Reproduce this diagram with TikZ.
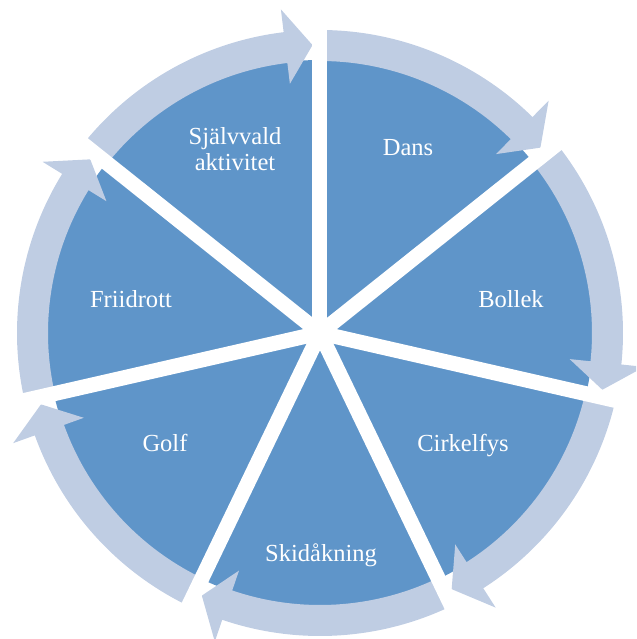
\documentclass[tikz,border=0pt]{standalone}
\usepackage{fontspec}
\setmainfont{Liberation Serif}
\definecolor{segblue}{HTML}{5F95C9}
\definecolor{arrowblue}{HTML}{BFCDE3}
\begin{document}
\begin{tikzpicture}[x=0.75pt,y=0.75pt,
  seg/.style={fill=segblue},
  ring/.style={fill=arrowblue},
  gapline/.style={draw=white,line width=11.25pt},
  lbl/.style={text=white,font=\fontsize{18.4}{19.5}\selectfont,anchor=base,inner sep=0pt}]
\clip (-320,-306) rectangle (316,333);
\fill[seg] (0,0) circle[radius=273];
\foreach \s in {90,38.5714,-12.8571,-64.2857,-115.7143,-167.1429,-218.5714}{
  \pgfmathsetmacro\e{\s-51.4286}
  \pgfmathsetmacro\t{\e+1.49}
  \pgfmathsetmacro\b{\t+5.4}
  \fill[ring] (\s:272) arc[start angle=\s,end angle=\b,radius=272]
     -- (\b:251) -- (\t:288) -- (\b:326) -- (\b:303)
     arc[start angle=\b,end angle=\s,radius=303] -- cycle;
}
\foreach \s in {90,38.5714,-12.8571,-64.2857,-115.7143,-167.1429,-218.5714}{
  \draw[gapline] (0,0) -- (\s:307);
}
\node[lbl] (dans) at (88,177) {Dans};
\node[lbl] (bollek) at (191,25) {Bollek};
\node[lbl] (cirkel) at (143,-118) {Cirkelfys};
\node[lbl] (skid) at (1,-228) {Skidåkning};
\node[lbl] (golf) at (-155,-118) {Golf};
\node[lbl] (frii) at (-189,25) {Friidrott};
\node[lbl,anchor=center,align=center] (sjalv) at (-85,184) {Självvald\\aktivitet};
\end{tikzpicture}
\end{document}
